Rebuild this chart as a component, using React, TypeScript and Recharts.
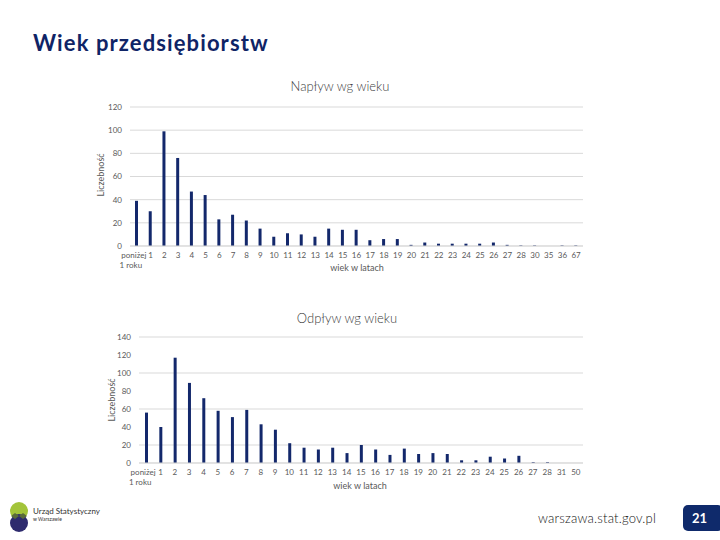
import { BarChart, Bar, XAxis, YAxis, CartesianGrid } from 'recharts'

const inflowAges = [
  'poniżej 1 roku', '1', '2', '3', '4', '5', '6', '7', '8', '9', '10', '11', '12', '13', '14', '15', '16',
  '17', '18', '19', '20', '21', '22', '23', '24', '25', '26', '27', '28', '30', '35', '36', '67',
]
const inflowCounts = [
  39, 30, 99, 76, 47, 44, 23, 27, 22, 15, 8, 11, 10, 8, 15, 14, 14, 5, 6, 6, 1, 3, 2, 2, 2, 2, 3, 1, 0.5, 0.5, 0,
  0.5, 0.5,
]
const inflowTicks = [0, 20, 40, 60, 80, 100, 120]

const outflowAges = [
  'poniżej 1 roku', '1', '2', '3', '4', '5', '6', '7', '8', '9', '10', '11', '12', '13', '14', '15', '16',
  '17', '18', '19', '20', '21', '22', '23', '24', '25', '26', '27', '28', '31', '50',
]
const outflowCounts = [
  56, 40, 117, 89, 72, 58, 51, 59, 43, 37, 22, 17, 15, 17, 11, 20, 15, 9, 16, 10, 11, 10, 3, 3, 7, 5, 8, 1, 1, 0, 0,
]
const outflowTicks = [0, 20, 40, 60, 80, 100, 120, 140]

const navy = '#13286b'
const grey = '#595959'
const font = 'Lato, "Open Sans", sans-serif'

const inflowData = inflowAges.map((age, i) => ({ age, count: inflowCounts[i] }))
const outflowData = outflowAges.map((age, i) => ({ age, count: outflowCounts[i] }))

function AgeTick({ x, y, payload }: any) {
  if (payload.value === 'poniżej 1 roku') {
    return (
      <text x={x - 3} y={y} fill={grey} fontSize={8} fontFamily={font} textAnchor="middle">
        <tspan x={x - 3} dy={4}>poniżej</tspan>
        <tspan x={x - 6} dy={10}>1 roku</tspan>
      </text>
    )
  }
  return (
    <text x={x} y={y} dy={4} fill={grey} fontSize={8} fontFamily={font} textAnchor="middle">
      {payload.value}
    </text>
  )
}

function AgeChart({ data, ticks, max, width, height, yWidth, xHeight }: any) {
  return (
    <BarChart width={width} height={height} data={data} margin={{ top: 12, right: 7, left: 0, bottom: 0 }}>
      <CartesianGrid vertical={false} stroke="#d9d9d9" />
      <XAxis
        dataKey="age"
        interval={0}
        tickLine={false}
        axisLine={{ stroke: '#d9d9d9' }}
        height={xHeight}
        tick={<AgeTick />}
      />
      <YAxis
        domain={[0, max]}
        ticks={ticks}
        width={yWidth}
        tickLine={false}
        axisLine={false}
        tick={{ fill: grey, fontSize: 8, fontFamily: font }}
      />
      <Bar dataKey="count" fill={navy} barSize={3} isAnimationActive={false} />
    </BarChart>
  )
}

const abs = (left: number, top: number, extra: any = {}) => ({ position: 'absolute' as const, left, top, ...extra })

export default function App() {
  return (
    <div style={{ position: 'absolute', left: 0, top: 0, width: 720, height: 540, background: '#fff', overflow: 'hidden', fontFamily: font }}>
      <div style={abs(33, 29, { fontSize: 22, fontWeight: 700, color: '#0f2466', letterSpacing: 1.1 })}>Wiek przedsiębiorstw</div>

      <div style={abs(240, 78, { width: 200, textAlign: 'center', fontSize: 13, fontWeight: 300, color: '#404040' })}>Napływ wg wieku</div>
      <div style={abs(90, 95)}>
        <AgeChart data={inflowData} ticks={inflowTicks} max={120} width={500} height={185} yWidth={40} xHeight={34} />
      </div>
      <div style={abs(357, 262, { transform: 'translateX(-50%)', fontSize: 9, color: grey, whiteSpace: 'nowrap' })}>wiek w latach</div>
      <div style={abs(100, 175, { transform: 'translate(-50%, -50%) rotate(-90deg)', fontSize: 9, color: grey, whiteSpace: 'nowrap' })}>Liczebność</div>

      <div style={abs(247, 310, { width: 200, textAlign: 'center', fontSize: 13, fontWeight: 300, color: '#404040' })}>Odpływ wg wieku</div>
      <div style={abs(100, 325)}>
        <AgeChart data={outflowData} ticks={outflowTicks} max={140} width={490} height={170} yWidth={39} xHeight={32} />
      </div>
      <div style={abs(360, 480, { transform: 'translateX(-50%)', fontSize: 9, color: grey, whiteSpace: 'nowrap' })}>wiek w latach</div>
      <div style={abs(111, 400, { transform: 'translate(-50%, -50%) rotate(-90deg)', fontSize: 9, color: grey, whiteSpace: 'nowrap' })}>Liczebność</div>

      <svg style={abs(5, 500)} width={110} height={34}>
        <circle cx={14} cy={11} r={9} fill="#a3c43a" />
        <circle cx={14} cy={23} r={9} fill="#2e2b6e" />
        <path d="M6 16 L10 13 L14 16 L18 13 L22 16 L18 19 L14 16 L10 19 Z" fill="#5a6b3a" />
        <text x={28} y={14} fontSize={8} fill="#333" fontFamily={font}>Urząd Statystyczny</text>
        <text x={28} y={21} fontSize={5} fill="#333" fontFamily={font}>w Warszawie</text>
      </svg>

      <div style={abs(538, 510, { fontSize: 13, fontWeight: 300, color: '#111', letterSpacing: 0.2 })}>warszawa.stat.gov.pl</div>
      <div style={abs(683, 505, { width: 40, height: 26, background: '#0f2a6b', borderRadius: 5, color: '#fff', fontSize: 13, fontWeight: 700, lineHeight: '26px', paddingLeft: 9, boxSizing: 'border-box' })}>21</div>
    </div>
  )
}
